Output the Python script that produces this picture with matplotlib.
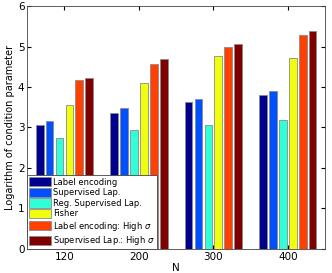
import numpy as np
import matplotlib.pyplot as plt

groups = ['120', '200', '300', '400']
series = ['Label encoding', 'Supervised Lap.', 'Reg. Supervised Lap.', 'Fisher',
          r'Label encoding: High $\sigma$', r'Supervised Lap.: High $\sigma$']
values = [
    [3.05, 3.37, 3.64, 3.80],
    [3.17, 3.47, 3.70, 3.89],
    [2.73, 2.93, 3.05, 3.19],
    [3.55, 4.09, 4.76, 4.71],
    [4.17, 4.58, 4.98, 5.29],
    [4.23, 4.68, 5.05, 5.38],
]
colors = ['#00008F', '#0050FF', '#30FFD8', '#F0FF10', '#FF4000', '#800000']

fig = plt.figure(figsize=(3.32, 2.73), dpi=100)
ax = fig.add_axes([0.082, 0.088, 0.897, 0.89])

x = np.arange(len(groups))
step = 0.8 / 6
for i, (name, vals) in enumerate(zip(series, values)):
    ax.bar(x - 0.4 + step * (i + 0.5), vals, width=step * 0.78, color=colors[i],
           edgecolor='#8a8a8a', linewidth=0.6, label=name)

ax.set_xlim(-0.5, 3.5)
ax.set_ylim(0, 6)
ax.set_xticks(x)
ax.set_xticklabels(groups)
ax.set_yticks(range(7))
ax.tick_params(direction='in', labelsize=7.5, length=3, top=True, right=True, pad=2)
ax.set_xlabel('N', fontsize=7.5, labelpad=1)
ax.set_ylabel('Logarithm of condition parameter', fontsize=7, labelpad=2)
for s in ax.spines.values():
    s.set_linewidth(0.6)
    s.set_color('#444444')

leg = ax.legend(loc='lower left', bbox_to_anchor=(0, 0), fontsize=6, frameon=True,
                fancybox=False, framealpha=1, borderaxespad=0, handlelength=2.6,
                handleheight=1.3, handletextpad=0.3, labelspacing=0.15, borderpad=0.25)
leg.get_frame().set_edgecolor('#444444')
leg.get_frame().set_linewidth(0.6)

fig.savefig('out.png', dpi=100)
